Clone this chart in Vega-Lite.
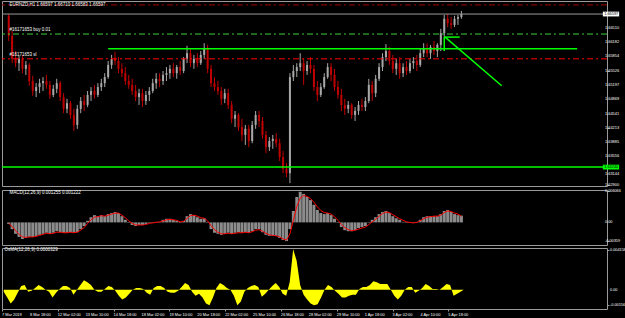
{
"$schema": "https://vega.github.io/schema/vega-lite/v6.json",
"background": "#000000",
"padding": 0,
"spacing": 0,
"config": {
"view": {"stroke": "#9a9a9a", "strokeWidth": 1, "fill": "#000000"},
"axis": {"grid": false, "domain": false, "labels": false, "tickColor": "#9a9a9a", "tickSize": 2},
"text": {"font": "Liberation Sans"}
},
"datasets": {
"bars": [
{"t":2,"o":1.6679,"h":1.6683,"l":1.6621,"c":1.6633,"m":-0.0003,"s":-0.0002,"os":-0.0002},
{"t":6,"o":1.6633,"h":1.6644,"l":1.6570,"c":1.6580,"m":-0.0013,"s":-0.0008,"os":-0.0008},
{"t":10,"o":1.6580,"h":1.6598,"l":1.6561,"c":1.6570,"m":-0.0022,"s":-0.0016,"os":-0.0014},
{"t":14,"o":1.6570,"h":1.6587,"l":1.6552,"c":1.6580,"m":-0.0028,"s":-0.0023,"os":-0.0010},
{"t":18,"o":1.6580,"h":1.6589,"l":1.6547,"c":1.6557,"m":-0.0032,"s":-0.0028,"os":-0.0003},
{"t":22,"o":1.6557,"h":1.6575,"l":1.6543,"c":1.6566,"m":-0.0030,"s":-0.0029,"os":0.0004},
{"t":26,"o":1.6566,"h":1.6570,"l":1.6518,"c":1.6529,"m":-0.0028,"s":-0.0028,"os":0.0005},
{"t":30,"o":1.6529,"h":1.6541,"l":1.6495,"c":1.6506,"m":-0.0028,"s":-0.0028,"os":-0.0002},
{"t":34,"o":1.6506,"h":1.6524,"l":1.6492,"c":1.6515,"m":-0.0026,"s":-0.0027,"os":-0.0001},
{"t":38,"o":1.6515,"h":1.6534,"l":1.6501,"c":1.6524,"m":-0.0024,"s":-0.0025,"os":0.0002},
{"t":42,"o":1.6524,"h":1.6538,"l":1.6506,"c":1.6529,"m":-0.0022,"s":-0.0023,"os":0.0005},
{"t":46,"o":1.6529,"h":1.6543,"l":1.6511,"c":1.6520,"m":-0.0020,"s":-0.0021,"os":0.0003},
{"t":50,"o":1.6520,"h":1.6529,"l":1.6488,"c":1.6497,"m":-0.0022,"s":-0.0022,"os":0.0000},
{"t":54,"o":1.6497,"h":1.6520,"l":1.6492,"c":1.6511,"m":-0.0020,"s":-0.0021,"os":-0.0002},
{"t":58,"o":1.6511,"h":1.6534,"l":1.6501,"c":1.6524,"m":-0.0017,"s":-0.0019,"os":-0.0008},
{"t":62,"o":1.6524,"h":1.6529,"l":1.6483,"c":1.6492,"m":-0.0019,"s":-0.0019,"os":-0.0003},
{"t":66,"o":1.6492,"h":1.6501,"l":1.6455,"c":1.6465,"m":-0.0020,"s":-0.0020,"os":0.0001},
{"t":70,"o":1.6465,"h":1.6488,"l":1.6455,"c":1.6478,"m":-0.0020,"s":-0.0020,"os":0.0004},
{"t":74,"o":1.6478,"h":1.6483,"l":1.6442,"c":1.6451,"m":-0.0019,"s":-0.0019,"os":0.0004},
{"t":78,"o":1.6451,"h":1.6465,"l":1.6414,"c":1.6428,"m":-0.0020,"s":-0.0020,"os":0.0002},
{"t":82,"o":1.6428,"h":1.6474,"l":1.6419,"c":1.6465,"m":-0.0019,"s":-0.0019,"os":-0.0005},
{"t":86,"o":1.6465,"h":1.6492,"l":1.6455,"c":1.6483,"m":-0.0013,"s":-0.0015,"os":0.0000},
{"t":90,"o":1.6483,"h":1.6497,"l":1.6460,"c":1.6474,"m":-0.0007,"s":-0.0010,"os":0.0005},
{"t":94,"o":1.6474,"h":1.6506,"l":1.6469,"c":1.6497,"m":0.0003,"s":-0.0002,"os":0.0010},
{"t":98,"o":1.6497,"h":1.6515,"l":1.6483,"c":1.6506,"m":0.0010,"s":0.0005,"os":0.0008},
{"t":102,"o":1.6506,"h":1.6520,"l":1.6488,"c":1.6497,"m":0.0014,"s":0.0010,"os":0.0005},
{"t":106,"o":1.6497,"h":1.6524,"l":1.6492,"c":1.6515,"m":0.0012,"s":0.0011,"os":0.0000},
{"t":110,"o":1.6515,"h":1.6534,"l":1.6506,"c":1.6524,"m":0.0014,"s":0.0013,"os":-0.0002},
{"t":114,"o":1.6524,"h":1.6547,"l":1.6515,"c":1.6538,"m":0.0012,"s":0.0012,"os":-0.0002},
{"t":118,"o":1.6538,"h":1.6575,"l":1.6534,"c":1.6566,"m":0.0016,"s":0.0014,"os":0.0001},
{"t":122,"o":1.6566,"h":1.6589,"l":1.6557,"c":1.6580,"m":0.0018,"s":0.0016,"os":0.0004},
{"t":126,"o":1.6580,"h":1.6596,"l":1.6566,"c":1.6575,"m":0.0020,"s":0.0018,"os":0.0003},
{"t":130,"o":1.6575,"h":1.6584,"l":1.6547,"c":1.6557,"m":0.0018,"s":0.0018,"os":-0.0001},
{"t":134,"o":1.6557,"h":1.6570,"l":1.6538,"c":1.6547,"m":0.0012,"s":0.0014,"os":-0.0006},
{"t":138,"o":1.6547,"h":1.6561,"l":1.6520,"c":1.6529,"m":0.0005,"s":0.0009,"os":-0.0010},
{"t":142,"o":1.6529,"h":1.6543,"l":1.6511,"c":1.6520,"m":-0.0001,"s":0.0003,"os":-0.0008},
{"t":146,"o":1.6520,"h":1.6534,"l":1.6497,"c":1.6506,"m":-0.0005,"s":-0.0002,"os":-0.0004},
{"t":150,"o":1.6506,"h":1.6520,"l":1.6483,"c":1.6492,"m":-0.0007,"s":-0.0005,"os":0.0000},
{"t":154,"o":1.6492,"h":1.6511,"l":1.6474,"c":1.6501,"m":-0.0005,"s":-0.0005,"os":0.0002},
{"t":158,"o":1.6501,"h":1.6511,"l":1.6469,"c":1.6483,"m":-0.0005,"s":-0.0005,"os":0.0002},
{"t":162,"o":1.6483,"h":1.6506,"l":1.6474,"c":1.6497,"m":-0.0003,"s":-0.0004,"os":0.0001},
{"t":166,"o":1.6497,"h":1.6515,"l":1.6483,"c":1.6506,"m":-0.0001,"s":-0.0002,"os":-0.0003},
{"t":170,"o":1.6506,"h":1.6534,"l":1.6501,"c":1.6524,"m":-0.0001,"s":-0.0001,"os":-0.0005},
{"t":174,"o":1.6524,"h":1.6547,"l":1.6511,"c":1.6534,"m":0.0001,"s":0.0000,"os":0.0002},
{"t":178,"o":1.6534,"h":1.6547,"l":1.6515,"c":1.6529,"m":0.0001,"s":0.0001,"os":0.0004},
{"t":182,"o":1.6529,"h":1.6552,"l":1.6520,"c":1.6543,"m":0.0005,"s":0.0003,"os":0.0004},
{"t":186,"o":1.6543,"h":1.6561,"l":1.6529,"c":1.6547,"m":0.0007,"s":0.0005,"os":0.0002},
{"t":190,"o":1.6547,"h":1.6566,"l":1.6534,"c":1.6557,"m":0.0007,"s":0.0006,"os":-0.0002},
{"t":194,"o":1.6557,"h":1.6570,"l":1.6538,"c":1.6547,"m":0.0005,"s":0.0005,"os":-0.0003},
{"t":198,"o":1.6547,"h":1.6566,"l":1.6534,"c":1.6561,"m":0.0003,"s":0.0004,"os":-0.0003},
{"t":202,"o":1.6561,"h":1.6575,"l":1.6543,"c":1.6552,"m":-0.0001,"s":0.0001,"os":-0.0001},
{"t":206,"o":1.6552,"h":1.6584,"l":1.6547,"c":1.6580,"m":0.0003,"s":0.0002,"os":0.0003},
{"t":210,"o":1.6580,"h":1.6610,"l":1.6570,"c":1.6593,"m":0.0012,"s":0.0008,"os":0.0007},
{"t":214,"o":1.6593,"h":1.6603,"l":1.6561,"c":1.6570,"m":0.0016,"s":0.0013,"os":0.0005},
{"t":218,"o":1.6570,"h":1.6589,"l":1.6557,"c":1.6580,"m":0.0014,"s":0.0014,"os":-0.0002},
{"t":222,"o":1.6580,"h":1.6593,"l":1.6561,"c":1.6570,"m":0.0010,"s":0.0012,"os":-0.0006},
{"t":226,"o":1.6570,"h":1.6598,"l":1.6566,"c":1.6589,"m":0.0007,"s":0.0009,"os":-0.0004},
{"t":230,"o":1.6589,"h":1.6616,"l":1.6580,"c":1.6603,"m":0.0008,"s":0.0008,"os":-0.0008},
{"t":234,"o":1.6603,"h":1.6612,"l":1.6547,"c":1.6557,"m":-0.0001,"s":0.0003,"os":-0.0014},
{"t":238,"o":1.6557,"h":1.6566,"l":1.6515,"c":1.6524,"m":-0.0013,"s":-0.0006,"os":-0.0016},
{"t":242,"o":1.6524,"h":1.6538,"l":1.6506,"c":1.6515,"m":-0.0020,"s":-0.0014,"os":-0.0008},
{"t":246,"o":1.6515,"h":1.6529,"l":1.6497,"c":1.6506,"m":-0.0022,"s":-0.0019,"os":0.0002},
{"t":250,"o":1.6506,"h":1.6515,"l":1.6474,"c":1.6488,"m":-0.0024,"s":-0.0022,"os":0.0007},
{"t":254,"o":1.6488,"h":1.6511,"l":1.6478,"c":1.6501,"m":-0.0022,"s":-0.0022,"os":0.0005},
{"t":258,"o":1.6501,"h":1.6511,"l":1.6465,"c":1.6474,"m":-0.0020,"s":-0.0021,"os":0.0002},
{"t":262,"o":1.6474,"h":1.6483,"l":1.6432,"c":1.6442,"m":-0.0022,"s":-0.0022,"os":0.0000},
{"t":266,"o":1.6442,"h":1.6460,"l":1.6423,"c":1.6451,"m":-0.0020,"s":-0.0021,"os":-0.0006},
{"t":270,"o":1.6451,"h":1.6455,"l":1.6414,"c":1.6423,"m":-0.0019,"s":-0.0020,"os":-0.0016},
{"t":274,"o":1.6423,"h":1.6442,"l":1.6391,"c":1.6405,"m":-0.0020,"s":-0.0020,"os":-0.0012},
{"t":278,"o":1.6405,"h":1.6428,"l":1.6382,"c":1.6419,"m":-0.0019,"s":-0.0019,"os":-0.0002},
{"t":282,"o":1.6419,"h":1.6428,"l":1.6377,"c":1.6391,"m":-0.0020,"s":-0.0020,"os":0.0002},
{"t":286,"o":1.6391,"h":1.6437,"l":1.6386,"c":1.6428,"m":-0.0017,"s":-0.0018,"os":0.0004},
{"t":290,"o":1.6428,"h":1.6460,"l":1.6419,"c":1.6451,"m":-0.0013,"s":-0.0015,"os":0.0005},
{"t":294,"o":1.6451,"h":1.6460,"l":1.6423,"c":1.6437,"m":-0.0013,"s":-0.0014,"os":0.0003},
{"t":298,"o":1.6437,"h":1.6446,"l":1.6396,"c":1.6405,"m":-0.0019,"s":-0.0017,"os":-0.0007},
{"t":302,"o":1.6405,"h":1.6414,"l":1.6363,"c":1.6377,"m":-0.0024,"s":-0.0021,"os":-0.0004},
{"t":306,"o":1.6377,"h":1.6400,"l":1.6368,"c":1.6391,"m":-0.0026,"s":-0.0024,"os":0.0000},
{"t":310,"o":1.6391,"h":1.6405,"l":1.6373,"c":1.6396,"m":-0.0026,"s":-0.0025,"os":0.0004},
{"t":314,"o":1.6396,"h":1.6409,"l":1.6377,"c":1.6386,"m":-0.0026,"s":-0.0026,"os":0.0007},
{"t":318,"o":1.6386,"h":1.6396,"l":1.6345,"c":1.6354,"m":-0.0030,"s":-0.0028,"os":0.0003},
{"t":322,"o":1.6354,"h":1.6368,"l":1.6317,"c":1.6327,"m":-0.0034,"s":-0.0032,"os":-0.0004},
{"t":326,"o":1.6327,"h":1.6340,"l":1.6308,"c":1.6317,"m":-0.0036,"s":-0.0034,"os":-0.0006},
{"t":330,"o":1.6317,"h":1.6547,"l":1.6294,"c":1.6538,"m":-0.0013,"s":-0.0022,"os":0.0008},
{"t":334,"o":1.6538,"h":1.6566,"l":1.6529,"c":1.6552,"m":0.0022,"s":0.0004,"os":0.0042},
{"t":338,"o":1.6552,"h":1.6570,"l":1.6538,"c":1.6561,"m":0.0049,"s":0.0031,"os":0.0030},
{"t":342,"o":1.6561,"h":1.6593,"l":1.6552,"c":1.6570,"m":0.0059,"s":0.0047,"os":0.0005},
{"t":346,"o":1.6570,"h":1.6580,"l":1.6520,"c":1.6552,"m":0.0055,"s":0.0052,"os":-0.0005},
{"t":350,"o":1.6552,"h":1.6575,"l":1.6543,"c":1.6566,"m":0.0049,"s":0.0050,"os":-0.0010},
{"t":354,"o":1.6566,"h":1.6584,"l":1.6547,"c":1.6557,"m":0.0043,"s":0.0046,"os":-0.0014},
{"t":358,"o":1.6557,"h":1.6566,"l":1.6506,"c":1.6515,"m":0.0034,"s":0.0039,"os":-0.0016},
{"t":362,"o":1.6515,"h":1.6529,"l":1.6483,"c":1.6497,"m":0.0024,"s":0.0030,"os":-0.0015},
{"t":366,"o":1.6497,"h":1.6524,"l":1.6492,"c":1.6515,"m":0.0018,"s":0.0023,"os":-0.0008},
{"t":370,"o":1.6515,"h":1.6547,"l":1.6511,"c":1.6538,"m":0.0016,"s":0.0019,"os":0.0000},
{"t":374,"o":1.6538,"h":1.6570,"l":1.6534,"c":1.6561,"m":0.0018,"s":0.0018,"os":0.0005},
{"t":378,"o":1.6561,"h":1.6570,"l":1.6529,"c":1.6543,"m":0.0014,"s":0.0016,"os":0.0003},
{"t":382,"o":1.6543,"h":1.6557,"l":1.6506,"c":1.6515,"m":0.0007,"s":0.0011,"os":-0.0001},
{"t":386,"o":1.6515,"h":1.6529,"l":1.6488,"c":1.6497,"m":-0.0001,"s":0.0004,"os":-0.0004},
{"t":390,"o":1.6497,"h":1.6511,"l":1.6460,"c":1.6474,"m":-0.0009,"s":-0.0004,"os":-0.0008},
{"t":394,"o":1.6474,"h":1.6488,"l":1.6451,"c":1.6465,"m":-0.0015,"s":-0.0010,"os":-0.0008},
{"t":398,"o":1.6465,"h":1.6483,"l":1.6455,"c":1.6474,"m":-0.0017,"s":-0.0014,"os":-0.0006},
{"t":402,"o":1.6474,"h":1.6478,"l":1.6442,"c":1.6451,"m":-0.0017,"s":-0.0016,"os":-0.0005},
{"t":406,"o":1.6451,"h":1.6469,"l":1.6437,"c":1.6460,"m":-0.0015,"s":-0.0015,"os":-0.0005},
{"t":410,"o":1.6460,"h":1.6483,"l":1.6451,"c":1.6474,"m":-0.0011,"s":-0.0013,"os":0.0001},
{"t":414,"o":1.6474,"h":1.6488,"l":1.6460,"c":1.6469,"m":-0.0009,"s":-0.0011,"os":0.0003},
{"t":418,"o":1.6469,"h":1.6492,"l":1.6460,"c":1.6483,"m":-0.0007,"s":-0.0009,"os":0.0003},
{"t":422,"o":1.6483,"h":1.6534,"l":1.6478,"c":1.6520,"m":-0.0001,"s":-0.0004,"os":0.0005},
{"t":426,"o":1.6520,"h":1.6529,"l":1.6483,"c":1.6501,"m":0.0005,"s":0.0001,"os":0.0009},
{"t":430,"o":1.6501,"h":1.6543,"l":1.6492,"c":1.6534,"m":0.0010,"s":0.0006,"os":0.0008},
{"t":434,"o":1.6534,"h":1.6570,"l":1.6529,"c":1.6561,"m":0.0016,"s":0.0012,"os":0.0006},
{"t":438,"o":1.6561,"h":1.6593,"l":1.6552,"c":1.6584,"m":0.0020,"s":0.0017,"os":0.0006},
{"t":442,"o":1.6584,"h":1.6614,"l":1.6575,"c":1.6598,"m":0.0022,"s":0.0020,"os":0.0006},
{"t":446,"o":1.6598,"h":1.6607,"l":1.6566,"c":1.6575,"m":0.0018,"s":0.0019,"os":0.0000},
{"t":450,"o":1.6575,"h":1.6589,"l":1.6547,"c":1.6557,"m":0.0012,"s":0.0015,"os":-0.0006},
{"t":454,"o":1.6557,"h":1.6580,"l":1.6543,"c":1.6570,"m":0.0008,"s":0.0011,"os":-0.0010},
{"t":458,"o":1.6570,"h":1.6584,"l":1.6534,"c":1.6547,"m":0.0005,"s":0.0007,"os":-0.0006},
{"t":462,"o":1.6547,"h":1.6570,"l":1.6538,"c":1.6561,"m":0.0001,"s":0.0004,"os":0.0000},
{"t":466,"o":1.6561,"h":1.6575,"l":1.6543,"c":1.6552,"m":-0.0001,"s":0.0001,"os":0.0003},
{"t":470,"o":1.6552,"h":1.6580,"l":1.6547,"c":1.6570,"m":-0.0001,"s":0.0000,"os":0.0003},
{"t":474,"o":1.6570,"h":1.6584,"l":1.6557,"c":1.6575,"m":-0.0001,"s":-0.0001,"os":-0.0003},
{"t":478,"o":1.6575,"h":1.6589,"l":1.6552,"c":1.6566,"m":0.0001,"s":0.0000,"os":-0.0001},
{"t":482,"o":1.6566,"h":1.6603,"l":1.6561,"c":1.6593,"m":0.0005,"s":0.0003,"os":0.0002},
{"t":486,"o":1.6593,"h":1.6616,"l":1.6584,"c":1.6603,"m":0.0010,"s":0.0007,"os":0.0006},
{"t":490,"o":1.6603,"h":1.6616,"l":1.6584,"c":1.6593,"m":0.0012,"s":0.0010,"os":0.0004},
{"t":494,"o":1.6593,"h":1.6612,"l":1.6580,"c":1.6607,"m":0.0012,"s":0.0011,"os":0.0001},
{"t":498,"o":1.6607,"h":1.6621,"l":1.6589,"c":1.6598,"m":0.0012,"s":0.0012,"os":0.0001},
{"t":502,"o":1.6598,"h":1.6616,"l":1.6584,"c":1.6612,"m":0.0012,"s":0.0012,"os":0.0000},
{"t":506,"o":1.6612,"h":1.6649,"l":1.6598,"c":1.6639,"m":0.0016,"s":0.0014,"os":0.0003},
{"t":510,"o":1.6639,"h":1.6681,"l":1.6630,"c":1.6672,"m":0.0022,"s":0.0019,"os":0.0006},
{"t":514,"o":1.6672,"h":1.6683,"l":1.6653,"c":1.6662,"m":0.0024,"s":0.0022,"os":0.0005},
{"t":518,"o":1.6662,"h":1.6676,"l":1.6649,"c":1.6658,"m":0.0020,"s":0.0021,"os":-0.0006},
{"t":522,"o":1.6658,"h":1.6679,"l":1.6653,"c":1.6672,"m":0.0016,"s":0.0018,"os":-0.0004},
{"t":526,"o":1.6672,"h":1.6681,"l":1.6658,"c":1.6676,"m":0.0014,"s":0.0016,"os":-0.0002},
{"t":530,"o":1.6676,"h":1.6690,"l":1.6672,"c":1.6683,"m":0.0013,"s":0.0012,"os":0.00003}
]
},
"vconcat": [
{
"width": 605, "height": 185,
"layer": [
{"data": {"name": "bars"}, "mark": {"type": "rule", "strokeWidth": 1},
"encoding": {
"x": {"field": "t", "type": "quantitative", "scale": {"domain": [0, 694], "nice": false, "zero": false}, "axis": null},
"y": {"field": "l", "type": "quantitative", "scale": {"domain": [1.62875, 1.6713], "nice": false, "zero": false},
"axis": {"orient": "right", "title": null, "values": [1.629, 1.63144, 1.63556, 1.63885, 1.64213, 1.64541, 1.64869, 1.65197, 1.65526, 1.65854, 1.66182, 1.6651]}},
"y2": {"field": "h"},
"color": {"condition": {"test": "datum.c < datum.o", "value": "#c00000"}, "value": "#a8a8a8"}}},
{"data": {"name": "bars"}, "mark": {"type": "bar", "width": 2},
"encoding": {
"x": {"field": "t", "type": "quantitative", "scale": {"domain": [0, 694], "nice": false, "zero": false}, "axis": null},
"y": {"field": "o", "type": "quantitative", "scale": {"domain": [1.62875, 1.6713], "nice": false, "zero": false}},
"y2": {"field": "c"},
"color": {"condition": {"test": "datum.c < datum.o", "value": "#c00000"}, "value": "#a8a8a8"}}},
{"data": {"values": [{"p": 1.6704}]}, "mark": {"type": "rule", "color": "#a00000", "strokeWidth": 1, "strokeDash": [6, 3, 2, 3]},
"encoding": {"y": {"field": "p", "type": "quantitative", "scale": {"domain": [1.62875, 1.6713], "nice": false, "zero": false}}}},
{"data": {"values": [{"p": 1.6683}]}, "mark": {"type": "rule", "color": "#9a9a9a", "strokeWidth": 1},
"encoding": {"y": {"field": "p", "type": "quantitative", "scale": {"domain": [1.62875, 1.6713], "nice": false, "zero": false}}}},
{"data": {"values": [{"p": 1.6637}]}, "mark": {"type": "rule", "color": "#3ccf3c", "strokeWidth": 1, "strokeDash": [6, 3, 2, 3]},
"encoding": {"y": {"field": "p", "type": "quantitative", "scale": {"domain": [1.62875, 1.6713], "nice": false, "zero": false}}}},
{"data": {"values": [{"p": 1.6580}]}, "mark": {"type": "rule", "color": "#ff0000", "strokeWidth": 1, "strokeDash": [6, 3, 2, 3]},
"encoding": {"y": {"field": "p", "type": "quantitative", "scale": {"domain": [1.62875, 1.6713], "nice": false, "zero": false}}}},
{"data": {"values": [{"p": 1.6331}]}, "mark": {"type": "rule", "color": "#00ff00", "strokeWidth": 1.5},
"encoding": {"y": {"field": "p", "type": "quantitative", "scale": {"domain": [1.62875, 1.6713], "nice": false, "zero": false}}}},
{"data": {"values": [{"t1": 118, "t2": 665, "p": 1.6603}, {"t1": 510, "t2": 528, "p": 1.6630}]}, "mark": {"type": "rule", "color": "#00ff00", "strokeWidth": 1.5},
"encoding": {
"x": {"field": "t1", "type": "quantitative", "scale": {"domain": [0, 694], "nice": false, "zero": false}, "axis": null},
"x2": {"field": "t2"},
"y": {"field": "p", "type": "quantitative", "scale": {"domain": [1.62875, 1.6713], "nice": false, "zero": false}}}},
{"data": {"values": [{"t1": 510, "p1": 1.6630, "t2": 510, "p2": 1.6598}, {"t1": 511, "p1": 1.6630, "t2": 577, "p2": 1.6518}]}, "mark": {"type": "rule", "color": "#00ff00", "strokeWidth": 1.5},
"encoding": {
"x": {"field": "t1", "type": "quantitative", "scale": {"domain": [0, 694], "nice": false, "zero": false}, "axis": null},
"x2": {"field": "t2"},
"y": {"field": "p1", "type": "quantitative", "scale": {"domain": [1.62875, 1.6713], "nice": false, "zero": false}},
"y2": {"field": "p2"}}},
{"data": {"values": [{"t": 3, "p": 1.6704, "txt": "EURNZD,H1  1.66597 1.66710 1.66583 1.66597"}, {"t": 3, "p": 1.6646, "txt": "#16171653 buy 0.01"}, {"t": 3, "p": 1.6589, "txt": "#16171653 sl"}]},
"mark": {"type": "text", "align": "left", "baseline": "middle", "fontSize": 4.5, "color": "#ffffff"},
"encoding": {
"x": {"field": "t", "type": "quantitative", "scale": {"domain": [0, 694], "nice": false, "zero": false}, "axis": null},
"y": {"field": "p", "type": "quantitative", "scale": {"domain": [1.62875, 1.6713], "nice": false, "zero": false}},
"text": {"field": "txt"}}},
{"data": {"values": [{"t": 697.5, "p": 1.629}, {"t": 697.5, "p": 1.63556}, {"t": 697.5, "p": 1.63885}, {"t": 697.5, "p": 1.64213}, {"t": 697.5, "p": 1.64541}, {"t": 697.5, "p": 1.64869}, {"t": 697.5, "p": 1.65197}, {"t": 697.5, "p": 1.65526}, {"t": 697.5, "p": 1.65854}, {"t": 697.5, "p": 1.66182}, {"t": 697.5, "p": 1.6651}, {"t": 697.5, "p": 1.63144}]},
"mark": {"type": "text", "align": "left", "baseline": "middle", "fontSize": 3.9, "color": "#ffffff"},
"encoding": {
"x": {"field": "t", "type": "quantitative", "scale": {"domain": [0, 694], "nice": false, "zero": false}, "axis": null},
"y": {"field": "p", "type": "quantitative", "scale": {"domain": [1.62875, 1.6713], "nice": false, "zero": false}},
"text": {"field": "p", "type": "quantitative", "format": ".5f"}}},
{"data": {"values": [{"t1": 695, "t2": 714, "p1": 1.66775, "p2": 1.66885}]}, "mark": {"type": "rect", "color": "#ffffff"},
"encoding": {
"x": {"field": "t1", "type": "quantitative", "scale": {"domain": [0, 694], "nice": false, "zero": false}, "axis": null},
"x2": {"field": "t2"},
"y": {"field": "p1", "type": "quantitative", "scale": {"domain": [1.62875, 1.6713], "nice": false, "zero": false}},
"y2": {"field": "p2"}}},
{"data": {"values": [{"t1": 695, "t2": 714, "p1": 1.63255, "p2": 1.63365}]}, "mark": {"type": "rect", "color": "#00ff00"},
"encoding": {
"x": {"field": "t1", "type": "quantitative", "scale": {"domain": [0, 694], "nice": false, "zero": false}, "axis": null},
"x2": {"field": "t2"},
"y": {"field": "p1", "type": "quantitative", "scale": {"domain": [1.62875, 1.6713], "nice": false, "zero": false}},
"y2": {"field": "p2"}}},
{"data": {"values": [{"t": 696.5, "p": 1.6683, "txt": "1.66597"}, {"t": 696.5, "p": 1.6331, "txt": "1.63240"}]},
"mark": {"type": "text", "align": "left", "baseline": "middle", "fontSize": 3.9, "color": "#000000"},
"encoding": {
"x": {"field": "t", "type": "quantitative", "scale": {"domain": [0, 694], "nice": false, "zero": false}, "axis": null},
"y": {"field": "p", "type": "quantitative", "scale": {"domain": [1.62875, 1.6713], "nice": false, "zero": false}},
"text": {"field": "txt"}}}
]
},
{
"width": 605, "height": 55,
"layer": [
{"data": {"name": "bars"}, "mark": {"type": "bar", "width": 3, "color": "#8c8c8c"},
"encoding": {
"x": {"field": "t", "type": "quantitative", "scale": {"domain": [0, 694], "nice": false, "zero": false}, "axis": null},
"y": {"field": "m", "type": "quantitative", "scale": {"domain": [-0.00436, 0.00625], "nice": false, "zero": false},
"axis": {"orient": "right", "title": null, "values": [0.006066, 0, -0.00359]}},
"y2": {"datum": 0}}},
{"data": {"name": "bars"}, "mark": {"type": "line", "color": "#ff0000", "strokeWidth": 1},
"encoding": {
"x": {"field": "t", "type": "quantitative", "scale": {"domain": [0, 694], "nice": false, "zero": false}, "axis": null},
"y": {"field": "s", "type": "quantitative", "scale": {"domain": [-0.00436, 0.00625], "nice": false, "zero": false}}}},
{"data": {"values": [{"t": 3, "v": 0.0057, "txt": "MACD(12,26,9) 0.001255 0.001222"}]},
"mark": {"type": "text", "align": "left", "baseline": "middle", "fontSize": 4.5, "color": "#ffffff"},
"encoding": {
"x": {"field": "t", "type": "quantitative", "scale": {"domain": [0, 694], "nice": false, "zero": false}, "axis": null},
"y": {"field": "v", "type": "quantitative", "scale": {"domain": [-0.00436, 0.00625], "nice": false, "zero": false}},
"text": {"field": "txt"}}},
{"data": {"values": [{"t": 697.5, "v": 0.006066, "txt": "0.006066"}, {"t": 697.5, "v": 0, "txt": "0.00"}, {"t": 697.5, "v": -0.00359, "txt": "-0.00359"}]},
"mark": {"type": "text", "align": "left", "baseline": "middle", "fontSize": 3.8, "color": "#ffffff"},
"encoding": {
"x": {"field": "t", "type": "quantitative", "scale": {"domain": [0, 694], "nice": false, "zero": false}, "axis": null},
"y": {"field": "v", "type": "quantitative", "scale": {"domain": [-0.00436, 0.00625], "nice": false, "zero": false}},
"text": {"field": "txt"}}}
]
},
{
"width": 605, "height": 61,
"layer": [
{"data": {"name": "bars"}, "mark": {"type": "area", "color": "#ffff00", "interpolate": "linear"},
"encoding": {
"x": {"field": "t", "type": "quantitative", "scale": {"domain": [0, 694], "nice": false, "zero": false},
"axis": {"orient": "bottom", "title": null, "values": [0, 32, 64, 96, 128, 160, 192, 224, 256, 288, 320, 352, 384, 416, 448, 480, 512]}},
"y": {"field": "os", "type": "quantitative", "scale": {"domain": [-0.00198, 0.00433], "nice": false, "zero": false},
"axis": {"orient": "right", "title": null, "values": [0.004158, 0, -0.00156]}},
"y2": {"datum": 0}}},
{"data": {"values": [{"t": 3, "v": 0.0041, "txt": "OsMA(12,26,9) 0.0000329"}]},
"mark": {"type": "text", "align": "left", "baseline": "middle", "fontSize": 4.5, "color": "#ffffff"},
"encoding": {
"x": {"field": "t", "type": "quantitative", "scale": {"domain": [0, 694], "nice": false, "zero": false}},
"y": {"field": "v", "type": "quantitative", "scale": {"domain": [-0.00198, 0.00433], "nice": false, "zero": false}},
"text": {"field": "txt"}}},
{"data": {"values": [{"t": 697.5, "v": 0.004158, "txt": "0.004158"}, {"t": 697.5, "v": 0, "txt": "0.00"}, {"t": 697.5, "v": -0.00156, "txt": "-0.00156"}]},
"mark": {"type": "text", "align": "left", "baseline": "middle", "fontSize": 3.8, "color": "#ffffff"},
"encoding": {
"x": {"field": "t", "type": "quantitative", "scale": {"domain": [0, 694], "nice": false, "zero": false}},
"y": {"field": "v", "type": "quantitative", "scale": {"domain": [-0.00198, 0.00433], "nice": false, "zero": false}},
"text": {"field": "txt"}}},
{"data": {"values": [
{"t": 0, "v": -0.00238, "txt": "7 Mar 2019"}, {"t": 32, "v": -0.00238, "txt": "8 Mar 18:00"}, {"t": 64, "v": -0.00238, "txt": "12 Mar 02:00"}, {"t": 96, "v": -0.00238, "txt": "13 Mar 10:00"},
{"t": 128, "v": -0.00238, "txt": "14 Mar 18:00"}, {"t": 160, "v": -0.00238, "txt": "18 Mar 02:00"}, {"t": 192, "v": -0.00238, "txt": "19 Mar 10:00"}, {"t": 224, "v": -0.00238, "txt": "20 Mar 18:00"},
{"t": 256, "v": -0.00238, "txt": "22 Mar 02:00"}, {"t": 288, "v": -0.00238, "txt": "25 Mar 10:00"}, {"t": 320, "v": -0.00238, "txt": "26 Mar 18:00"}, {"t": 352, "v": -0.00238, "txt": "28 Mar 02:00"},
{"t": 384, "v": -0.00238, "txt": "29 Mar 10:00"}, {"t": 416, "v": -0.00238, "txt": "1 Apr 18:00"}, {"t": 448, "v": -0.00238, "txt": "3 Apr 02:00"}, {"t": 480, "v": -0.00238, "txt": "4 Apr 10:00"},
{"t": 512, "v": -0.00238, "txt": "5 Apr 18:00"}]},
"mark": {"type": "text", "align": "left", "baseline": "top", "fontSize": 3.9, "color": "#ffffff"},
"encoding": {
"x": {"field": "t", "type": "quantitative", "scale": {"domain": [0, 694], "nice": false, "zero": false}},
"y": {"field": "v", "type": "quantitative", "scale": {"domain": [-0.00198, 0.00433], "nice": false, "zero": false}},
"text": {"field": "txt"}}}
]
}
]
}
